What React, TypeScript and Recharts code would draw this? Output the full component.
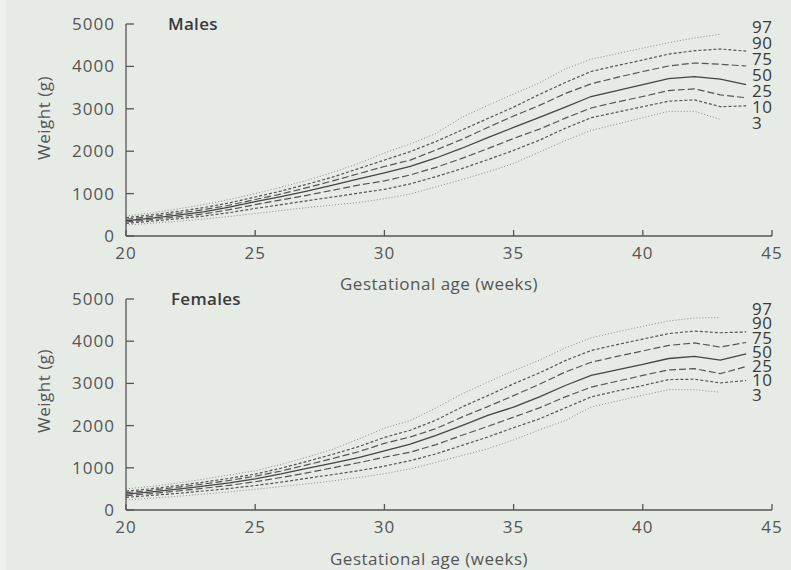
import { LineChart, Line, XAxis, YAxis } from 'recharts';

// Gestational age in completed weeks
const WEEKS = [20, 21, 22, 23, 24, 25, 26, 27, 28, 29, 30, 31, 32, 33, 34, 35, 36, 37, 38, 39, 40, 41, 42, 43, 44];

// Males, birthweight percentiles (g); 97th and 3rd stop at 43 weeks
const MALE_P97 = [470, 550, 640, 740, 860, 1000, 1150, 1310, 1500, 1710, 1960, 2170, 2420, 2800, 3080, 3350, 3610, 3940, 4170, 4300, 4430, 4560, 4670, 4760, null];
const MALE_P90 = [430, 500, 580, 670, 780, 920, 1060, 1220, 1390, 1590, 1790, 1990, 2230, 2500, 2770, 3040, 3340, 3620, 3880, 4020, 4150, 4290, 4370, 4410, 4360];
const MALE_P75 = [395, 460, 535, 620, 725, 860, 990, 1140, 1300, 1470, 1640, 1790, 2030, 2280, 2560, 2830, 3080, 3360, 3590, 3740, 3880, 4010, 4080, 4050, 4010];
const MALE_P50 = [360, 420, 490, 570, 680, 810, 930, 1060, 1200, 1350, 1490, 1640, 1840, 2070, 2320, 2560, 2800, 3040, 3290, 3430, 3570, 3710, 3760, 3700, 3570];
const MALE_P25 = [330, 385, 450, 520, 620, 740, 850, 960, 1080, 1200, 1300, 1440, 1620, 1830, 2060, 2300, 2520, 2780, 3020, 3160, 3290, 3430, 3470, 3330, 3260];
const MALE_P10 = [300, 350, 405, 470, 550, 650, 740, 830, 920, 1010, 1100, 1230, 1400, 1590, 1800, 2020, 2260, 2540, 2790, 2920, 3050, 3180, 3210, 3050, 3070];
const MALE_P3 = [260, 300, 345, 400, 460, 530, 600, 670, 730, 790, 880, 990, 1160, 1330, 1510, 1710, 1980, 2250, 2490, 2640, 2790, 2940, 2940, 2750, null];

// Females
const FEMALE_P97 = [500, 560, 640, 730, 830, 930, 1080, 1250, 1440, 1680, 1940, 2120, 2420, 2750, 3030, 3300, 3550, 3840, 4080, 4220, 4350, 4480, 4550, 4560, null];
const FEMALE_P90 = [445, 505, 580, 660, 750, 850, 990, 1150, 1320, 1500, 1720, 1890, 2130, 2440, 2710, 2990, 3250, 3540, 3780, 3920, 4050, 4180, 4240, 4200, 4220];
const FEMALE_P75 = [410, 470, 540, 615, 700, 800, 925, 1070, 1220, 1380, 1580, 1730, 1930, 2200, 2450, 2710, 2980, 3270, 3500, 3640, 3770, 3900, 3960, 3860, 3970];
const FEMALE_P50 = [375, 430, 495, 565, 645, 740, 855, 985, 1110, 1240, 1400, 1560, 1770, 2000, 2240, 2440, 2680, 2950, 3190, 3320, 3450, 3590, 3640, 3550, 3700];
const FEMALE_P25 = [340, 390, 450, 515, 585, 670, 770, 880, 1000, 1120, 1250, 1370, 1550, 1770, 1980, 2200, 2420, 2680, 2910, 3050, 3190, 3320, 3350, 3230, 3400];
const FEMALE_P10 = [300, 345, 395, 450, 510, 580, 660, 750, 840, 930, 1040, 1170, 1330, 1530, 1730, 1950, 2160, 2420, 2680, 2820, 2950, 3090, 3100, 3010, 3070];
const FEMALE_P3 = [240, 280, 325, 375, 430, 490, 555, 620, 690, 770, 860, 975, 1130, 1290, 1450, 1660, 1900, 2120, 2440, 2580, 2720, 2850, 2850, 2790, null];

const PERCENTILES = ['97', '90', '75', '50', '25', '10', '3'];
const X_TICKS = [20, 25, 30, 35, 40, 45];
const Y_TICKS = [0, 1000, 2000, 3000, 4000, 5000];

const FONT = '"Open Sans", "DejaVu Sans", sans-serif';
const TEXT = '#555';

// one style per percentile, same order as PERCENTILES
const LINE_STYLES = [
  { stroke: '#8c8c8c', dash: '1 2', width: 1 },
  { stroke: '#555', dash: '3 2', width: 1.2 },
  { stroke: '#555', dash: '7 3', width: 1.2 },
  { stroke: '#444', dash: undefined, width: 1.3 },
  { stroke: '#555', dash: '7 3', width: 1.2 },
  { stroke: '#555', dash: '3 2', width: 1.2 },
  { stroke: '#8c8c8c', dash: '1 2', width: 1 },
];

function buildRows(series: (number | null)[][]) {
  return WEEKS.map((week, i) => {
    const row: Record<string, number | null> = { week };
    PERCENTILES.forEach((p, k) => {
      row['p' + p] = series[k][i];
    });
    return row;
  });
}

const maleRows = buildRows([MALE_P97, MALE_P90, MALE_P75, MALE_P50, MALE_P25, MALE_P10, MALE_P3]);
const femaleRows = buildRows([FEMALE_P97, FEMALE_P90, FEMALE_P75, FEMALE_P50, FEMALE_P25, FEMALE_P10, FEMALE_P3]);

interface PanelProps {
  title: string;
  rows: Record<string, number | null>[];
  top: number;
  height: number;
  marginTop: number;
  titleLeft: number;
  xTitleLeft: number;
  xTitleTop: number;
  yTitleTop: number;
  labelTop: number;
  labelStep: number;
}

function Panel(props: PanelProps) {
  const { title, rows, top, height, marginTop, titleLeft, xTitleLeft, xTitleTop, yTitleTop, labelTop, labelStep } = props;
  const axisStroke = { stroke: TEXT, strokeWidth: 1.3 };
  const tickStyle = { fill: TEXT, fontSize: 17, letterSpacing: 1 };
  return (
    <div style={{ position: 'absolute', left: 0, top, width: 791, height }}>
      <LineChart
        width={791}
        height={height}
        data={rows}
        margin={{ top: marginTop, right: 19, bottom: 0, left: 0 }}
        style={{ fontFamily: FONT }}
      >
        <XAxis
          dataKey="week"
          type="number"
          domain={[20, 45]}
          ticks={X_TICKS}
          height={40}
          tickSize={-6}
          tickMargin={17}
          axisLine={axisStroke}
          tickLine={axisStroke}
          tick={tickStyle}
        />
        <YAxis
          type="number"
          domain={[0, 5000]}
          ticks={Y_TICKS}
          width={126}
          tickSize={-8}
          tickMargin={19}
          axisLine={axisStroke}
          tickLine={axisStroke}
          tick={tickStyle}
        />
        {PERCENTILES.map((p, k) => (
          <Line
            key={p}
            dataKey={'p' + p}
            type="linear"
            stroke={LINE_STYLES[k].stroke}
            strokeWidth={LINE_STYLES[k].width}
            strokeDasharray={LINE_STYLES[k].dash}
            dot={false}
            activeDot={false}
            isAnimationActive={false}
          />
        ))}
      </LineChart>

      <div style={{ position: 'absolute', left: titleLeft, top: marginTop - 12, fontSize: 17, fontWeight: 600, color: '#3a3a3a', letterSpacing: 0.3 }}>
        {title}
      </div>
      <div
        style={{
          position: 'absolute',
          left: 43,
          top: yTitleTop,
          transform: 'translate(-50%, -50%) rotate(-90deg)',
          whiteSpace: 'nowrap',
          fontSize: 17,
          letterSpacing: 0.5,
          color: TEXT,
        }}
      >
        Weight (g)
      </div>
      <div style={{ position: 'absolute', left: xTitleLeft, top: xTitleTop, fontSize: 17, letterSpacing: 0.5, color: TEXT, whiteSpace: 'nowrap' }}>
        Gestational age (weeks)
      </div>
      <div style={{ position: 'absolute', left: 752, top: labelTop, fontSize: 17, letterSpacing: 0.5, lineHeight: `${labelStep}px`, color: '#3a3a3a' }}>
        {PERCENTILES.map((p) => (
          <div key={p}>{p}</div>
        ))}
      </div>
    </div>
  );
}

export default function App() {
  return (
    <div
      style={{
        position: 'absolute',
        left: 0,
        top: 0,
        width: 791,
        height: 570,
        background: '#e7ebe6',
        fontFamily: FONT,
        overflow: 'hidden',
      }}
    >
      <div style={{ position: 'absolute', left: 0, top: 0, width: 6, height: 570, background: '#eef2ec' }} />
      <Panel
        title="Males"
        rows={maleRows}
        top={0}
        height={276}
        marginTop={24}
        titleLeft={168}
        xTitleLeft={340}
        xTitleTop={272}
        yTitleTop={118}
        labelTop={19}
        labelStep={16}
      />
      <Panel
        title="Females"
        rows={femaleRows}
        top={280}
        height={270}
        marginTop={19}
        titleLeft={171}
        xTitleLeft={330}
        xTitleTop={267}
        yTitleTop={111}
        labelTop={22}
        labelStep={14.3}
      />
    </div>
  );
}
